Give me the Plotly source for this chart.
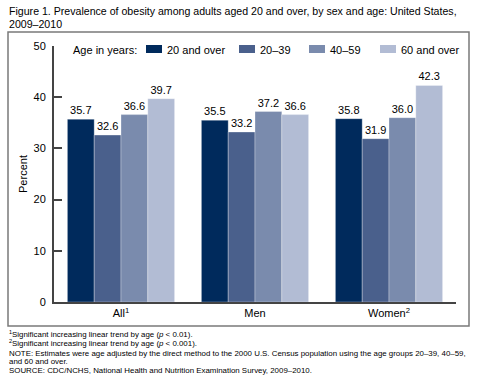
import plotly.graph_objects as go

categories = ["All<sup>1</sup>", "Men", "Women<sup>2</sup>"]
series_names = ["20 and over", "20–39", "40–59", "60 and over"]
values_20_over = [35.7, 35.5, 35.8]
values_20_39 = [32.6, 33.2, 31.9]
values_40_59 = [36.6, 37.2, 36.0]
values_60_over = [39.7, 36.6, 42.3]
colors = ["#002A5C", "#4A608C", "#7A8BAD", "#B2BCD4"]
y_ticks = [0, 10, 20, 30, 40, 50]

title_lines = ["Figure 1. Prevalence of obesity among adults aged 20 and over, by sex and age: United States,",
               "2009–2010"]
footnotes = [
    "<sup>1</sup>Significant increasing linear trend by age (<i>p</i> < 0.01).",
    "<sup>2</sup>Significant increasing linear trend by age (<i>p</i> < 0.001).",
    "NOTE: Estimates were age adjusted by the direct method to the 2000 U.S. Census population using the age groups 20–39, 40–59,",
    "and 60 and over.",
    "SOURCE: CDC/NCHS, National Health and Nutrition Examination Survey, 2009–2010.",
]

W, H = 478, 386
L, R, T, B = 54, 22, 46, 84
PW, PH = W - L - R, H - T - B
FONT = "Arial, Liberation Sans, sans-serif"
FS = 11

def px_x(px):
    return (px - L) / PW

def px_y(py):
    return (H - B - py) / PH

fig = go.Figure()
all_values = [values_20_over, values_20_39, values_40_59, values_60_over]
for name, vals, c in zip(series_names, all_values, colors):
    fig.add_trace(go.Bar(
        x=categories, y=vals, name=name, marker_color=c,
        marker_line_color="rgba(255,255,255,0.6)", marker_line_width=0.5,
        text=vals, texttemplate="%{y:.1f}", textposition="outside",
        textfont=dict(size=FS, color="black", family=FONT),
        cliponaxis=False, showlegend=False, hoverinfo="skip",
    ))

shapes = []
annotations = []
# border
shapes.append(dict(type="rect", xref="paper", yref="paper",
                   x0=px_x(8), x1=px_x(469), y0=px_y(326), y1=px_y(32),
                   line=dict(color="#7a7a7a", width=1.5), fillcolor="rgba(0,0,0,0)", layer="below"))

# manual legend
annotations.append(dict(text="Age in years:", xref="paper", yref="paper", x=px_x(71), y=px_y(50),
                        xanchor="left", yanchor="middle", showarrow=False,
                        font=dict(size=FS, family=FONT, color="black")))
sw_x = [146, 239, 309, 380]
for sx, name, c in zip(sw_x, series_names, colors):
    shapes.append(dict(type="rect", xref="paper", yref="paper",
                       x0=px_x(sx), x1=px_x(sx + 16), y0=px_y(53), y1=px_y(45),
                       line=dict(width=0), fillcolor=c))
    annotations.append(dict(text=name, xref="paper", yref="paper", x=px_x(sx + 19), y=px_y(50),
                            xanchor="left", yanchor="middle", showarrow=False,
                            font=dict(size=FS, family=FONT, color="black")))

# title
for i, line in enumerate(title_lines):
    annotations.append(dict(text=line, xref="paper", yref="paper", x=px_x(7), y=px_y(11 + 13 * i),
                            xanchor="left", yanchor="middle", showarrow=False,
                            font=dict(size=10.6, family=FONT, color="black")))

# footnotes
fy = [334, 343, 353, 361, 370]
for yy, line in zip(fy, footnotes):
    annotations.append(dict(text=line, xref="paper", yref="paper", x=px_x(7), y=px_y(yy),
                            xanchor="left", yanchor="middle", showarrow=False,
                            font=dict(size=7.9, family=FONT, color="black")))

fig.update_layout(
    width=W, height=H,
    margin=dict(l=L, r=R, t=T, b=B, autoexpand=False),
    paper_bgcolor="white", plot_bgcolor="white",
    barmode="group", bargap=0.2, bargroupgap=0,
    font=dict(family=FONT, size=FS, color="black"),
    shapes=shapes, annotations=annotations,
    showlegend=False, hovermode=False,
)
fig.update_xaxes(showline=True, linecolor="#444444", linewidth=2, ticks="",
                 tickfont=dict(size=FS, family=FONT, color="black"), showgrid=False, zeroline=False)
fig.update_yaxes(range=[0, 50], tickvals=y_ticks, showline=True, linecolor="#444444", linewidth=2,
                 ticks="inside", ticklen=8, tickcolor="#444444", tickwidth=1.5,
                 showgrid=False, zeroline=False, ticklabelstandoff=4,
                 tickfont=dict(size=FS, family=FONT, color="black"),
                 title=dict(text="Percent", font=dict(size=FS, family=FONT, color="black"), standoff=4))

fig.write_html("out.html", config={"displayModeBar": False},
               post_script="document.body.style.margin='0px';document.body.style.overflow='hidden';")
